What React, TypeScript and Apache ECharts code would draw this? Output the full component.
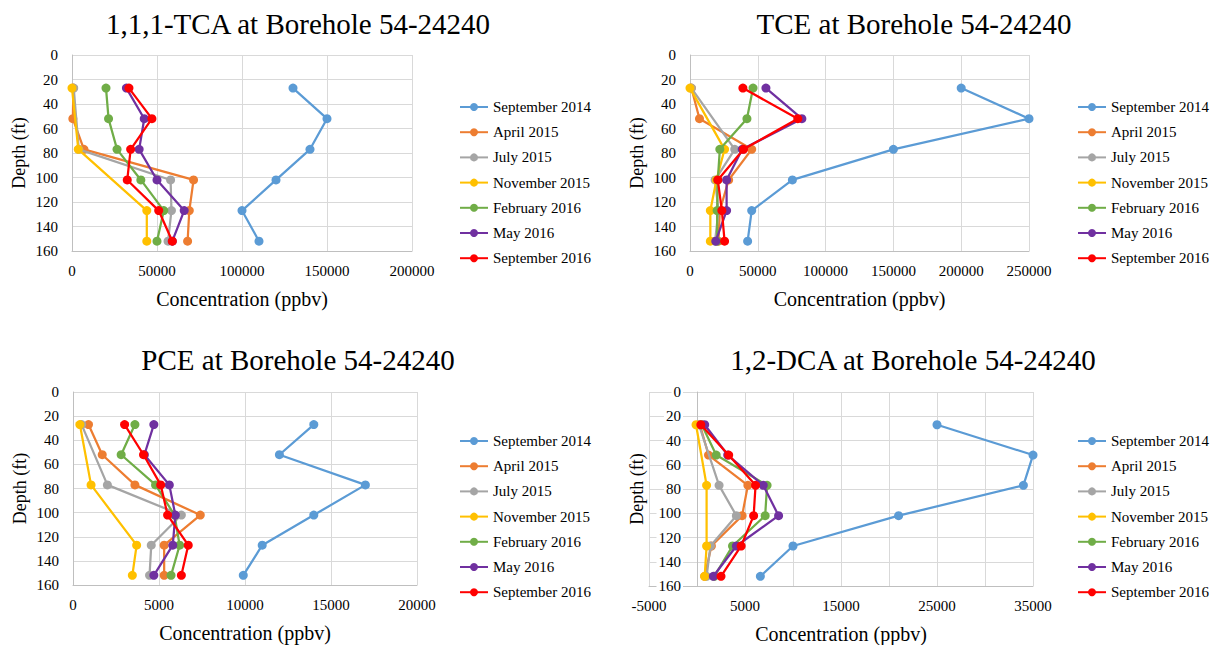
import React, { useEffect, useRef } from "react";
import * as echarts from "echarts";

const depths = [27, 52, 77, 102, 127, 152];
const seriesNames = [
  "September 2014",
  "April 2015",
  "July 2015",
  "November 2015",
  "February 2016",
  "May 2016",
  "September 2016",
];
const seriesColors = ["#5B9BD5", "#ED7D31", "#A5A5A5", "#FFC000", "#70AD47", "#7030A0", "#FF0000"];

// 1,1,1-TCA
const tcaSep14 = [130000, 150000, 140000, 120000, 100000, 110000];
const tcaApr15 = [800, 500, 7000, 71500, 69000, 68000];
const tcaJul15 = [1000, null, 4000, 58000, 58500, 56500];
const tcaNov15 = [0, null, 3700, null, 44000, 44000];
const tcaFeb16 = [20000, 21500, 26500, 40500, 54000, 50000];
const tcaMay16 = [32000, 42500, 39500, 50000, 66000, 59000];
const tcaSep16 = [33500, 47000, 34500, 32500, 51000, 59000];

// TCE
const tceSep14 = [200000, 250000, 150000, 75500, 45500, 42500];
const tceApr15 = [1000, 7000, 45500, 28500, 22000, 21000];
const tceJul15 = [1000, null, 33000, 18500, 21000, 18500];
const tceNov15 = [0, null, 25500, 19500, 15000, 15000];
const tceFeb16 = [46500, 42000, 22000, 20500, 20000, 20000];
const tceMay16 = [56000, 82500, 38500, 27000, 27000, 19000];
const tceSep16 = [39000, 79500, 39500, 20500, 23500, 25500];

// PCE
const pceSep14 = [14000, 12000, 17000, 14000, 11000, 9900];
const pceApr15 = [900, 1700, 3600, 7400, 5300, 5300];
const pceJul15 = [500, null, 2000, 6300, 4550, 4450];
const pceNov15 = [400, null, 1050, null, 3700, 3450];
const pceFeb16 = [3600, 2800, 4800, 5900, 6200, 5700];
const pceMay16 = [4700, 4150, 5600, 5950, 5800, 4700];
const pceSep16 = [3000, 4100, 5100, 5500, 6700, 6300];

// 1,2-DCA
const dcaSep14 = [25000, 35000, 34000, 21000, 10000, 6600];
const dcaApr15 = [300, 1200, 5300, 4700, 1500, 800];
const dcaJul15 = [200, null, 2300, 4100, 1400, 1000];
const dcaNov15 = [-100, null, 1000, null, 1000, 800];
const dcaFeb16 = [500, 2000, 7300, 7100, 3700, 1800];
const dcaMay16 = [800, 3200, 6900, 8500, 4100, 1700];
const dcaSep16 = [400, 3300, 6100, 5900, 4600, 2500];

const chartTitles = [
  "1,1,1-TCA at Borehole 54-24240",
  "TCE at Borehole 54-24240",
  "PCE at Borehole 54-24240",
  "1,2-DCA at Borehole 54-24240",
];
const xAxisTitle = "Concentration (ppbv)";
const yAxisTitle = "Depth (ft)";
const xRanges = [
  { min: 0, max: 200000, interval: 50000 },
  { min: 0, max: 250000, interval: 50000 },
  { min: 0, max: 20000, interval: 5000 },
  { min: -5000, max: 35000, interval: 5000 },
];
const chartData = [
  [tcaSep14, tcaApr15, tcaJul15, tcaNov15, tcaFeb16, tcaMay16, tcaSep16],
  [tceSep14, tceApr15, tceJul15, tceNov15, tceFeb16, tceMay16, tceSep16],
  [pceSep14, pceApr15, pceJul15, pceNov15, pceFeb16, pceMay16, pceSep16],
  [dcaSep14, dcaApr15, dcaJul15, dcaNov15, dcaFeb16, dcaMay16, dcaSep16],
];

const FONT = "Liberation Serif";

const layout = [
  { grid: { left: 72, top: 55, width: 340, height: 196 }, title: { x: 293, y: 4 }, legend: { x: 459, y: 99 } },
  { grid: { left: 690, top: 55, width: 339, height: 196 }, title: { x: 909, y: 4 }, legend: { x: 1077, y: 99 } },
  { grid: { left: 73, top: 392, width: 344, height: 193 }, title: { x: 293, y: 340 }, legend: { x: 459, y: 433 } },
  { grid: { left: 649, top: 392, width: 384, height: 195 }, title: { x: 908, y: 340 }, legend: { x: 1077, y: 433 } },
];

export default function App() {
  const ref = useRef<HTMLDivElement>(null);
  useEffect(() => {
    if (!ref.current) return;
    const chart = echarts.init(ref.current, null, { renderer: "svg" });
    const series: any[] = [];
    chartData.forEach((group, c) => {
      group.forEach((vals, s) => {
        const data: any[] = [];
        vals.forEach((v, i) => {
          if (v !== null && v !== undefined) data.push([v, depths[i]]);
        });
        series.push({
          type: "line",
          name: seriesNames[s],
          xAxisIndex: c,
          yAxisIndex: c,
          data,
          symbol: "circle",
          symbolSize: 9,
          color: seriesColors[s],
          lineStyle: { width: 2.25, color: seriesColors[s] },
          itemStyle: { color: seriesColors[s] },
          z: 2 + s,
        });
      });
    });
    const option: any = {
      animation: false,
      backgroundColor: "#fff",
      textStyle: { fontFamily: FONT },
      title: layout.map((l, c) => ({
        text: chartTitles[c],
        left: l.title.x,
        top: l.title.y,
        textAlign: "center",
        textStyle: { fontFamily: FONT, fontSize: 29, fontWeight: "normal", color: "#000" },
      })),
      legend: layout.map((l) => ({
        data: seriesNames,
        orient: "vertical",
        left: l.legend.x,
        top: l.legend.y,
        padding: 0,
        itemWidth: 28,
        itemHeight: 10,
        itemGap: 9.2,
        textStyle: { fontFamily: FONT, fontSize: 15, color: "#000", lineHeight: 16 },
      })),
      grid: layout.map((l) => ({ ...l.grid, containLabel: false })),
      xAxis: xRanges.map((r, c) => ({
        type: "value",
        gridIndex: c,
        min: r.min,
        max: r.max,
        interval: r.interval,
        position: "bottom",
        axisLine: { show: true, onZero: false, lineStyle: { color: "#bfbfbf", width: 1 } },
        axisTick: { show: false },
        splitLine: { show: true, lineStyle: { color: "#d9d9d9", width: 1 } },
        axisLabel: {
          fontFamily: FONT,
          fontSize: 15,
          color: "#000",
          margin: 12,
          formatter: (v: number) => (c === 3 && (v + 5000) % 10000 !== 0 ? "" : String(v)),
        },
        name: xAxisTitle,
        nameLocation: "middle",
        nameGap: 38,
        nameTextStyle: { fontFamily: FONT, fontSize: 20, color: "#000" },
      })),
      yAxis: xRanges.map((r, c) => ({
        type: "value",
        gridIndex: c,
        inverse: true,
        min: 0,
        max: 160,
        interval: 20,
        offset: r.min < 0 ? -(layout[c].grid.width * (-r.min)) / (r.max - r.min) : 0,
        axisLine: { show: true, onZero: false, lineStyle: { color: "#bfbfbf", width: 1 } },
        axisTick: { show: false },
        splitLine: { show: true, lineStyle: { color: "#d9d9d9", width: 1 } },
        axisLabel: {
          fontFamily: FONT,
          fontSize: 15,
          color: "#000",
          margin: 14,
          backgroundColor: c === 3 ? "#fff" : "transparent",
          padding: c === 3 ? [0, 2, 0, 2] : 0,
        },
        name: yAxisTitle,
        nameLocation: "middle",
        nameGap: c === 3 ? 51 : 44,
        nameTextStyle: { fontFamily: FONT, fontSize: 18, color: "#000" },
      })),
      series,
    };
    chart.setOption(option);
    return () => chart.dispose();
  }, []);
  return (
    <div
      ref={ref}
      style={{ position: "absolute", left: 0, top: 0, width: 1214, height: 645, background: "#fff" }}
    />
  );
}
